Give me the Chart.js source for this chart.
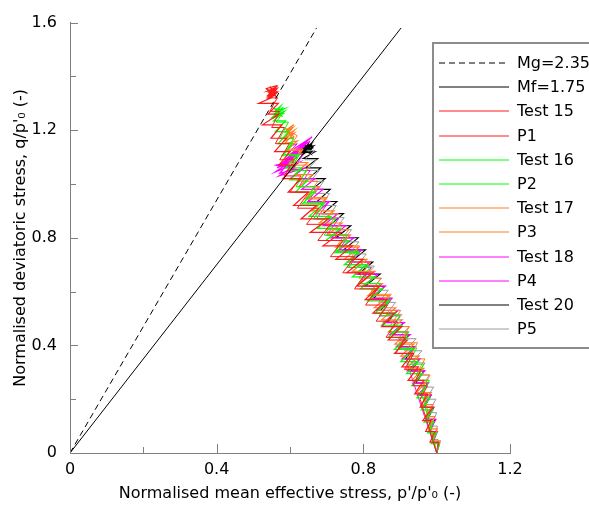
<!DOCTYPE html>
<html lang="en">
  <head>
    <meta charset="UTF-8" />
    <title>Normalised stress paths</title>
    <script src="https://cdn.jsdelivr.net/npm/chart.js"></script>
    <style>
      body { margin: 0; background: #fff; }
      .graph { width: 589px; height: 508px; }
    </style>
  </head>
  <body>
    <div class="graph"><canvas id="stressChart"></canvas></div>
    <script>
      // critical state lines q = M p'
      const mValues = [2.35, 1.75];
      const mLabels = ["Mg=2.35", "Mf=1.75"];
      const qLineEnd = 1.58;

      // axes
      const xMajor = [0, 0.4, 0.8, 1.2];
      const xMinor = [0.2, 0.6, 1.0];
      const yMajor = [0, 0.4, 0.8, 1.2, 1.6];
      const yMinor = [0.2, 0.6, 1.0, 1.4];

      const seriesLabels = ["Test 15", "P1", "Test 16", "P2", "Test 17", "P3", "Test 18", "P4", "Test 20", "P5"];

      // p'/p'0 , q/p'0
      const test15 = [
        [1.000,0.000],[1.005,0.040],[0.982,0.040],[0.995,0.080],[0.970,0.080],[0.985,0.120],
        [0.962,0.120],[0.990,0.170],[0.955,0.170],[0.975,0.220],[0.940,0.220],[0.965,0.270],
        [0.922,0.270],[0.950,0.320],[0.905,0.320],[0.935,0.370],[0.885,0.370],[0.920,0.420],
        [0.868,0.420],[0.905,0.470],[0.850,0.470],[0.885,0.520],[0.826,0.520],[0.865,0.570],
        [0.805,0.570],[0.845,0.620],[0.782,0.620],[0.825,0.670],[0.755,0.670],[0.800,0.720],
        [0.725,0.720],[0.770,0.770],[0.690,0.770],[0.740,0.820],[0.655,0.820],[0.705,0.870],
        [0.630,0.870],[0.672,0.920],[0.610,0.920],[0.650,0.970],[0.595,0.970],[0.630,1.020],
        [0.580,1.020],[0.615,1.070],[0.570,1.070],[0.600,1.120],[0.558,1.120],[0.590,1.170],
        [0.548,1.170],[0.578,1.220],[0.525,1.220],[0.570,1.260],[0.540,1.260],[0.568,1.300],
        [0.515,1.300],[0.548,1.320],[0.565,1.340],[0.540,1.330],[0.562,1.360],[0.538,1.345],
        [0.560,1.350],[0.545,1.320],[0.565,1.355],[0.542,1.340],[0.558,1.330],[0.536,1.355],
        [0.563,1.365],[0.540,1.325],[0.566,1.345],[0.537,1.315],[0.560,1.338],[0.545,1.362],
        [0.562,1.325],[0.539,1.350],[0.555,1.345]
      ];
      const p1 = [
        [1.000,0.000],[0.955,0.200],[0.975,0.250],[0.935,0.250],[0.958,0.310],[0.912,0.310],
        [0.938,0.370],[0.888,0.370],[0.915,0.430],[0.862,0.430],[0.892,0.490],[0.835,0.490],
        [0.866,0.550],[0.806,0.550],[0.838,0.610],[0.776,0.610],[0.808,0.670],[0.744,0.670],
        [0.776,0.730],[0.710,0.730],[0.744,0.790],[0.676,0.790],[0.710,0.850],[0.645,0.850],
        [0.678,0.910],[0.620,0.910],[0.652,0.970],[0.600,0.970],[0.630,1.030],[0.584,1.030],
        [0.612,1.090],[0.572,1.090],[0.598,1.150],[0.560,1.150],[0.585,1.210],[0.550,1.210],
        [0.572,1.270],[0.545,1.270],[0.565,1.320],[0.540,1.320],[0.560,1.350],[0.545,1.340]
      ];
      const test16 = [
        [1.000,0.000],[1.008,0.035],[0.985,0.035],[1.000,0.075],[0.975,0.075],[0.992,0.115],
        [0.966,0.115],[0.990,0.160],[0.958,0.160],[0.982,0.205],[0.946,0.205],[0.972,0.250],
        [0.932,0.250],[0.962,0.295],[0.918,0.295],[0.950,0.340],[0.902,0.340],[0.935,0.385],
        [0.885,0.385],[0.920,0.430],[0.868,0.430],[0.905,0.475],[0.850,0.475],[0.888,0.520],
        [0.832,0.520],[0.870,0.565],[0.812,0.565],[0.852,0.610],[0.792,0.610],[0.832,0.655],
        [0.770,0.655],[0.810,0.700],[0.748,0.700],[0.788,0.745],[0.722,0.745],[0.762,0.790],
        [0.698,0.790],[0.738,0.835],[0.675,0.835],[0.712,0.880],[0.652,0.880],[0.690,0.925],
        [0.632,0.925],[0.668,0.970],[0.615,0.970],[0.650,1.015],[0.600,1.015],[0.632,1.060],
        [0.588,1.060],[0.620,1.105],[0.578,1.105],[0.608,1.150],[0.568,1.150],[0.596,1.195],
        [0.560,1.195],[0.588,1.235],[0.555,1.235],[0.585,1.270],[0.553,1.250],[0.582,1.285],
        [0.556,1.260],[0.585,1.280],[0.558,1.270],[0.575,1.290],[0.554,1.245],[0.583,1.262],
        [0.557,1.280],[0.580,1.250]
      ];
      const p2 = [
        [1.000,0.000],[0.960,0.220],[0.980,0.270],[0.942,0.270],[0.965,0.330],[0.920,0.330],
        [0.946,0.390],[0.896,0.390],[0.924,0.450],[0.870,0.450],[0.900,0.510],[0.843,0.510],
        [0.874,0.570],[0.815,0.570],[0.846,0.630],[0.786,0.630],[0.818,0.690],[0.756,0.690],
        [0.788,0.750],[0.724,0.750],[0.756,0.810],[0.693,0.810],[0.725,0.870],[0.664,0.870],
        [0.696,0.930],[0.638,0.930],[0.668,0.990],[0.616,0.990],[0.646,1.050],[0.598,1.050],
        [0.626,1.110],[0.584,1.110],[0.610,1.170],[0.572,1.170],[0.596,1.230],[0.562,1.230],
        [0.584,1.270],[0.560,1.280]
      ];
      const test17 = [
        [1.000,0.000],[1.010,0.045],[0.988,0.045],[1.002,0.090],[0.978,0.090],[0.995,0.135],
        [0.968,0.135],[0.990,0.180],[0.958,0.180],[0.985,0.225],[0.946,0.225],[0.975,0.270],
        [0.932,0.270],[0.965,0.315],[0.918,0.315],[0.952,0.360],[0.902,0.360],[0.938,0.405],
        [0.886,0.405],[0.922,0.450],[0.868,0.450],[0.906,0.495],[0.850,0.495],[0.888,0.540],
        [0.830,0.540],[0.870,0.585],[0.812,0.585],[0.852,0.630],[0.792,0.630],[0.832,0.675],
        [0.770,0.675],[0.810,0.720],[0.748,0.720],[0.788,0.765],[0.725,0.765],[0.765,0.810],
        [0.702,0.810],[0.742,0.855],[0.680,0.855],[0.720,0.900],[0.660,0.900],[0.698,0.945],
        [0.642,0.945],[0.680,0.990],[0.625,0.990],[0.662,1.035],[0.612,1.035],[0.648,1.080],
        [0.600,1.080],[0.632,1.125],[0.590,1.125],[0.620,1.160],[0.585,1.150],[0.612,1.190],
        [0.582,1.170],[0.608,1.210],[0.585,1.190],[0.610,1.220],[0.588,1.200],[0.606,1.215],
        [0.590,1.180],[0.612,1.200],[0.584,1.160],[0.611,1.175],[0.586,1.210],[0.609,1.165]
      ];
      const p3 = [
        [1.000,0.000],[0.962,0.240],[0.982,0.290],[0.944,0.290],[0.968,0.350],[0.922,0.350],
        [0.948,0.410],[0.898,0.410],[0.926,0.470],[0.872,0.470],[0.902,0.530],[0.845,0.530],
        [0.876,0.590],[0.817,0.590],[0.848,0.650],[0.788,0.650],[0.820,0.710],[0.758,0.710],
        [0.790,0.770],[0.728,0.770],[0.760,0.830],[0.698,0.830],[0.730,0.890],[0.670,0.890],
        [0.702,0.950],[0.645,0.950],[0.676,1.010],[0.624,1.010],[0.654,1.070],[0.608,1.070],
        [0.636,1.130],[0.595,1.130],[0.620,1.180],[0.590,1.200]
      ];
      const test18 = [
        [1.000,0.000],[1.008,0.040],[0.990,0.040],[1.002,0.080],[0.980,0.080],[0.998,0.125],
        [0.970,0.125],[0.992,0.170],[0.960,0.170],[0.985,0.215],[0.948,0.215],[0.978,0.260],
        [0.935,0.260],[0.968,0.305],[0.920,0.305],[0.955,0.350],[0.905,0.350],[0.942,0.395],
        [0.890,0.395],[0.928,0.440],[0.872,0.440],[0.912,0.485],[0.855,0.485],[0.895,0.530],
        [0.836,0.530],[0.878,0.575],[0.818,0.575],[0.860,0.620],[0.798,0.620],[0.840,0.665],
        [0.778,0.665],[0.818,0.710],[0.756,0.710],[0.796,0.755],[0.734,0.755],[0.774,0.800],
        [0.712,0.800],[0.752,0.845],[0.690,0.845],[0.730,0.890],[0.670,0.890],[0.708,0.935],
        [0.650,0.935],[0.690,0.980],[0.632,0.980],[0.668,1.020],[0.600,1.020],[0.640,1.060],
        [0.570,1.030],[0.625,1.080],[0.560,1.045],[0.620,1.100],[0.565,1.060],[0.630,1.120],
        [0.575,1.075],[0.640,1.140],[0.585,1.090],[0.655,1.160],[0.600,1.110],[0.660,1.175],
        [0.610,1.130],[0.650,1.165],[0.572,1.040],[0.615,1.055],[0.562,1.070],[0.608,1.085]
      ];
      const p4 = [
        [1.000,0.000],[0.918,0.339],[0.940,0.390],[0.895,0.390],[0.922,0.450],[0.870,0.450],
        [0.900,0.510],[0.845,0.510],[0.876,0.570],[0.818,0.570],[0.850,0.630],[0.790,0.630],
        [0.822,0.690],[0.760,0.690],[0.792,0.750],[0.730,0.750],[0.762,0.810],[0.700,0.810],
        [0.732,0.870],[0.672,0.870],[0.704,0.930],[0.646,0.930],[0.678,0.990],[0.624,0.990],
        [0.655,1.050],[0.606,1.050],[0.636,1.110],[0.592,1.110],[0.620,1.150],[0.600,1.140]
      ];
      const test20 = [
        [1.000,0.000],[1.005,0.040],[0.990,0.040],[1.000,0.080],[0.982,0.080],[0.995,0.125],
        [0.975,0.125],[0.992,0.170],[0.966,0.170],[0.985,0.215],[0.955,0.215],[0.976,0.260],
        [0.943,0.260],[0.966,0.305],[0.930,0.305],[0.954,0.350],[0.915,0.350],[0.940,0.395],
        [0.899,0.395],[0.925,0.440],[0.882,0.440],[0.909,0.485],[0.865,0.485],[0.893,0.530],
        [0.847,0.530],[0.876,0.575],[0.828,0.575],[0.858,0.620],[0.804,0.620],[0.846,0.665],
        [0.786,0.665],[0.826,0.710],[0.766,0.710],[0.806,0.755],[0.746,0.755],[0.786,0.800],
        [0.726,0.800],[0.766,0.845],[0.708,0.845],[0.746,0.890],[0.690,0.890],[0.728,0.935],
        [0.674,0.935],[0.710,0.980],[0.660,0.980],[0.696,1.020],[0.650,1.020],[0.684,1.060],
        [0.642,1.060],[0.676,1.095],[0.636,1.095],[0.668,1.120],[0.630,1.115],[0.660,1.145],
        [0.632,1.125],[0.662,1.140],[0.634,1.130],[0.658,1.150],[0.636,1.120],[0.664,1.135],
        [0.640,1.128],[0.655,1.145],[0.633,1.138],[0.660,1.128],[0.628,1.145],[0.662,1.118],
        [0.635,1.150],[0.657,1.112],[0.630,1.132],[0.665,1.142],[0.638,1.112],[0.650,1.150],
        [0.631,1.122],[0.661,1.150]
      ];
      const p5 = [
        [1.000,0.000],[1.004,0.050],[0.990,0.050],[1.002,0.100],[0.985,0.100],[1.000,0.150],
        [0.978,0.150],[0.998,0.200],[0.970,0.200],[0.992,0.245],[0.958,0.245],[0.980,0.290],
        [0.945,0.290],[0.968,0.335],[0.930,0.335],[0.960,0.380],[0.912,0.380],[0.944,0.425],
        [0.895,0.425],[0.925,0.470],[0.880,0.470],[0.905,0.515],[0.862,0.515],[0.888,0.560],
        [0.842,0.560],[0.868,0.605],[0.822,0.605],[0.850,0.650],[0.802,0.650],[0.830,0.695],
        [0.782,0.695],[0.808,0.740],[0.762,0.740],[0.788,0.785],[0.742,0.785],[0.768,0.830],
        [0.722,0.830],[0.748,0.875],[0.702,0.875],[0.726,0.920],[0.684,0.920],[0.708,0.965],
        [0.668,0.965],[0.692,1.010],[0.655,1.010],[0.680,1.050],[0.646,1.050],[0.672,1.090],
        [0.640,1.090],[0.668,1.125],[0.645,1.125]
      ];

      const seriesData = [test15, p1, test16, p2, test17, p3, test18, p4, test20, p5];
      const seriesColours = ["#ff1a1a", "#ff1a1a", "#00ff00", "#00ff00", "#ff7f27", "#ff7f27",
                             "#ff00ff", "#ff00ff", "#000000", "#9a9a9a"];
      // lower order is drawn on top
      const seriesOrder = [3, 4, 5, 6, 7, 8, 9, 10, 12, 11];
      const seriesWidths = [1.2, 1, 1.2, 1, 1.2, 1, 1.2, 1, 1.1, 1];

      // key entries, in the order of the box
      const keyLabels = mLabels.concat(seriesLabels);
      const keyColours = ["#000000", "#000000"].concat(seriesColours);

      const axisColour = "#808080";
      Chart.defaults.font.family = "'DejaVu Sans', Verdana, sans-serif";
      Chart.defaults.font.size = 16;
      Chart.defaults.color = "#000";

      let datasets = [];
      for (let i = 0; i < mValues.length; i++) {
        datasets.push({
          label: mLabels[i],
          data: [[0, 0], [qLineEnd / mValues[i], qLineEnd]],
          borderColor: "#000",
          borderWidth: 1,
          borderDash: i == 0 ? [6, 4] : [],
          order: 0,
        });
      }
      for (let i = 0; i < seriesLabels.length; i++) {
        datasets.push({
          label: seriesLabels[i],
          data: seriesData[i],
          borderColor: seriesColours[i],
          borderWidth: seriesWidths[i],
          order: seriesOrder[i],
        });
      }

      // ticks on the inside of the axes
      const innerTicks = {
        id: "innerTicks",
        afterDraw(chart) {
          const { ctx, scales: { x, y } } = chart;
          ctx.save();
          ctx.strokeStyle = axisColour;
          ctx.lineWidth = 1;
          ctx.beginPath();
          xMajor.concat(xMinor).forEach(function (v) {
            const px = Math.round(x.getPixelForValue(v)) + 0.5;
            const len = xMajor.includes(v) ? 9 : 6;
            ctx.moveTo(px, y.bottom);
            ctx.lineTo(px, y.bottom - len);
          });
          yMajor.concat(yMinor).forEach(function (v) {
            const py = Math.round(y.getPixelForValue(v)) + 0.5;
            const len = yMajor.includes(v) ? 8 : 6;
            ctx.moveTo(x.left, py);
            ctx.lineTo(x.left + len, py);
          });
          ctx.stroke();
          ctx.restore();
        },
      };

      // boxed legend sitting in the plot
      const boxLegend = {
        id: "boxLegend",
        afterDraw(chart) {
          const ctx = chart.ctx;
          const left = 433, top = 43, bottom = 348, rowStep = 24.2;
          ctx.save();
          ctx.fillStyle = "#fff";
          ctx.fillRect(left, top, 200, bottom - top);
          ctx.strokeStyle = "#8c8c8c";
          ctx.lineWidth = 2;
          ctx.strokeRect(left, top, 200, bottom - top);
          ctx.font = "16px 'DejaVu Sans'";
          ctx.textBaseline = "middle";
          for (let i = 0; i < keyLabels.length; i++) {
            // whole-pixel y gives the soft two-pixel sample line of the original key
            const ry = Math.round(top + 20 + i * rowStep);
            ctx.strokeStyle = keyColours[i];
            ctx.lineWidth = 1;
            ctx.setLineDash(i == 0 ? [6, 4] : []);
            ctx.beginPath();
            ctx.moveTo(439, ry);
            ctx.lineTo(509, ry);
            ctx.stroke();
            ctx.setLineDash([]);
            ctx.fillStyle = "#000";
            ctx.fillText(keyLabels[i], 517, ry + 1);
          }
          ctx.restore();
        },
      };

      const config = {
        type: "scatter",
        data: { datasets: datasets },
        options: {
          responsive: true,
          maintainAspectRatio: false,
          animation: false,
          showLine: true,
          elements: { point: { radius: 0 }, line: { tension: 0 } },
          layout: { padding: { top: 4, right: 79, left: 0, bottom: 0 } },
          plugins: { legend: { display: false }, tooltip: { enabled: false } },
          scales: {
            x: {
              min: 0,
              max: 1.2,
              grid: { display: false, drawTicks: false },
              border: { color: axisColour, width: 1 },
              ticks: { stepSize: 0.4, padding: 7, color: "#000" },
              title: {
                display: true,
                text: "Normalised mean effective stress, p'/p'\u2080 (-)",
                padding: { top: 0, bottom: 5 },
              },
              afterFit: function (scale) { scale.height = 55; },
            },
            y: {
              min: 0,
              max: 1.6,
              grid: { display: false, drawTicks: false },
              border: { color: axisColour, width: 1 },
              ticks: { stepSize: 0.4, padding: 13, color: "#000" },
              title: {
                display: true,
                text: "Normalised deviatoric stress, q/p'\u2080 (-)",
                padding: { top: 11, bottom: 0 },
              },
              afterFit: function (scale) { scale.width = 70; },
            },
          },
        },
        plugins: [innerTicks, boxLegend],
      };

      new Chart(document.getElementById("stressChart"), config);
    </script>
  </body>
</html>
